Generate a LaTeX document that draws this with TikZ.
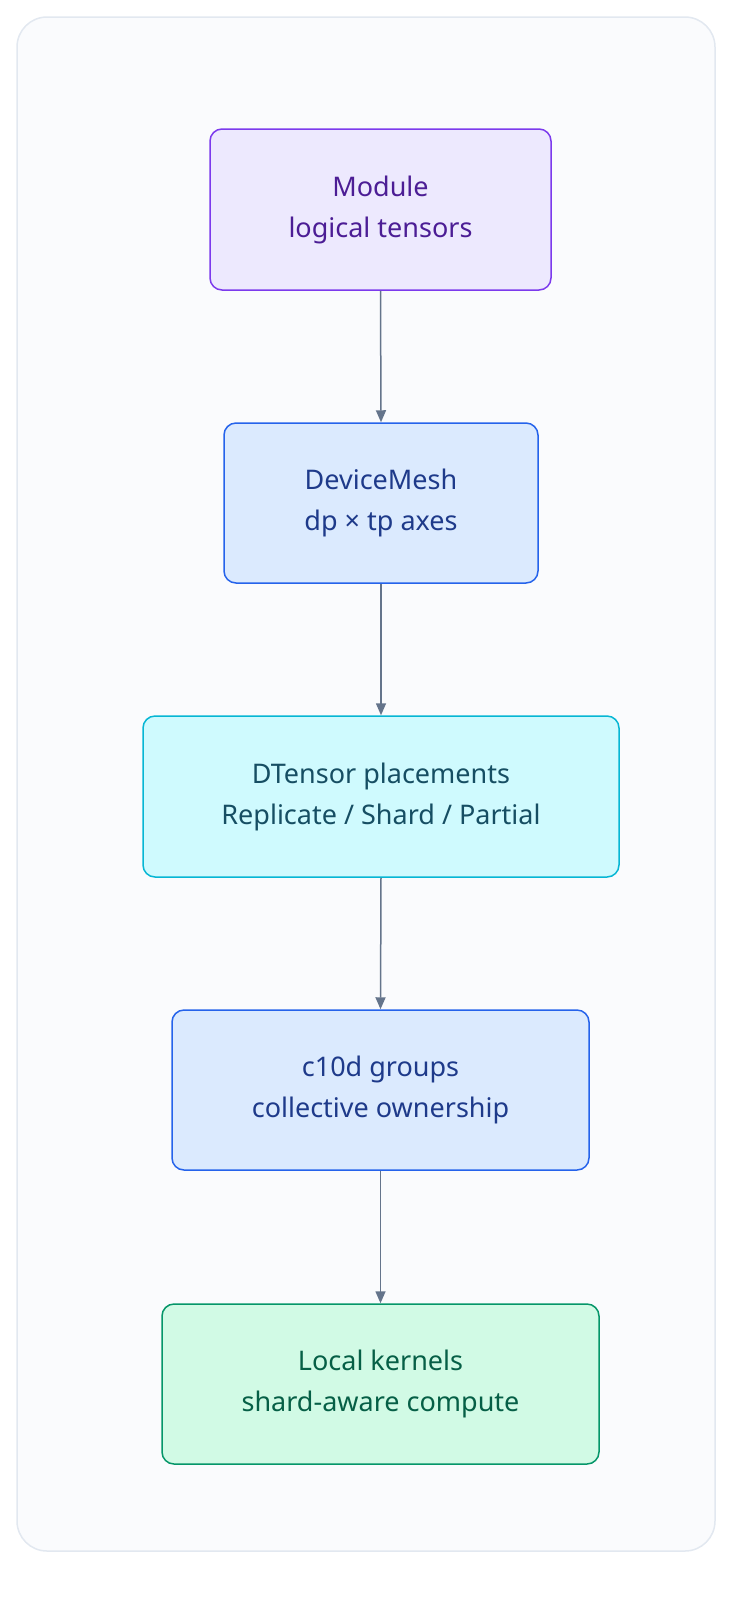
\documentclass[tikz,border=0pt]{standalone}
\usepackage{fontspec}
\setmainfont{Noto Sans}
\usetikzlibrary{arrows.meta}
\definecolor{pf}{HTML}{EDE9FE}\definecolor{pd}{HTML}{7C3AED}\definecolor{pt}{HTML}{4C1D95}
\definecolor{bf}{HTML}{DBEAFE}\definecolor{bd}{HTML}{2563EB}\definecolor{bt}{HTML}{1E3A8A}
\definecolor{cf}{HTML}{CFFAFE}\definecolor{cd}{HTML}{06B6D4}\definecolor{ct}{HTML}{164E63}
\definecolor{gf}{HTML}{D1FAE5}\definecolor{gd}{HTML}{059669}\definecolor{gt}{HTML}{065F46}
\definecolor{ar}{HTML}{64748B}\definecolor{fr}{HTML}{E2E8F0}\definecolor{bgc}{HTML}{FAFBFD}
\tikzset{box/.style={draw,line width=0.75pt,rounded corners=6pt,align=center,
  font=\fontsize{13.5}{20.5}\selectfont,inner sep=0pt},
 arr/.style={draw=ar,line width=0.75pt,-{Triangle[length=6pt,width=5pt]}}}
\begin{document}
\begin{tikzpicture}[x=0.5pt,y=-0.5pt]
\useasboundingbox (0,0) rectangle (748,1602);
\draw[fr,fill=bgc,line width=0.75pt,rounded corners=15pt] (17,17) rectangle (715,1551);
\node[box,fill=pf,draw=pd,text=pt,minimum width=170.5pt,minimum height=80.5pt] (m) at (380.5,209.5) {Module\\logical tensors};
\node[box,fill=bf,draw=bd,text=bt,minimum width=157pt,minimum height=80pt] (d) at (381,503) {DeviceMesh\\dp × tp axes};
\node[box,fill=cf,draw=cd,text=ct,minimum width=238pt,minimum height=80.5pt] (t) at (381,796.5) {DTensor placements\\Replicate / Shard / Partial};
\node[box,fill=bf,draw=bd,text=bt,minimum width=208.5pt,minimum height=80pt] (c) at (380.5,1090) {c10d groups\\collective ownership};
\node[box,fill=gf,draw=gd,text=gt,minimum width=218.5pt,minimum height=80pt] (l) at (380.5,1384) {Local kernels\\shard-aware compute};
\draw[arr] (m.south) -- (d.north);
\draw[arr] (d.south) -- (t.north);
\draw[arr] (t.south) -- (c.north);
\draw[arr] (c.south) -- (l.north);
\end{tikzpicture}
\end{document}
